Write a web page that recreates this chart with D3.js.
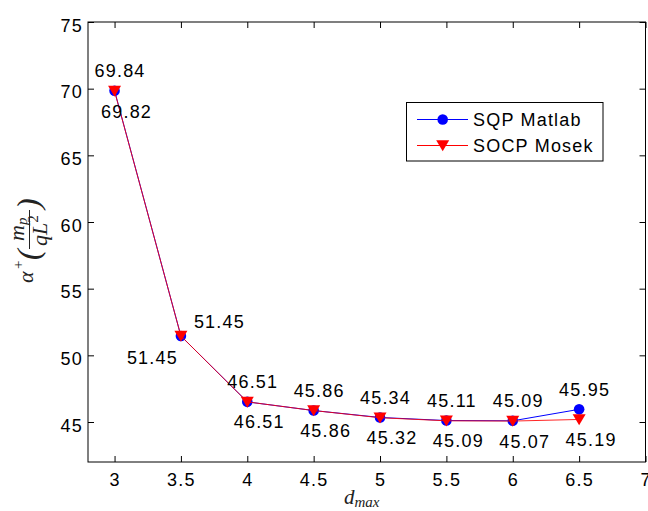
<!DOCTYPE html>
<html>
<head>
<meta charset="utf-8">
<script src="https://cdn.jsdelivr.net/npm/d3@7"></script>
<style>
  html, body { margin: 0; padding: 0; background: #fff; }
  svg { display: block; }
  .sans { font-family: "Liberation Sans", Arial, Helvetica, sans-serif; font-size: 18px; letter-spacing: 1.2px; fill: #000; }
  .math { font-family: "Liberation Serif", "DejaVu Serif", serif; font-style: italic; fill: #222; }
</style>
</head>
<body>
<div id="chart"></div>
<script>
// ---- data ----
const dmax = [3, 3.5, 4, 4.5, 5, 5.5, 6, 6.5];
const sqpMatlab = [69.84, 51.45, 46.51, 45.86, 45.34, 45.11, 45.09, 45.95];
const socpMosek = [69.82, 51.45, 46.51, 45.86, 45.32, 45.09, 45.07, 45.19];
const seriesNames = ["SQP Matlab", "SOCP Mosek"];
const xTicks = [3, 3.5, 4, 4.5, 5, 5.5, 6, 6.5, 7];
const yTicks = [45, 50, 55, 60, 65, 70, 75];

// ---- layout ----
const W = 648, H = 511;
const pL = 88, pR = 645.5, pT = 22, pB = 462;
// label offsets (px) relative to point: default and per-index overrides
const blueOff = { dx: 5.5, dy: -13.5 };
const redOff = { dx: 12, dy: 26.5 };
const blueOverride = { 1: { dx: 38.5, dy: -8 } };
const redOverride = { 1: { dx: -28.5, dy: 28 } };

const svg = d3.select("#chart").append("svg").attr("width", W).attr("height", H);

const x = d3.scaleLinear().domain([2.8, 7]).range([pL, pR]);
const y = d3.scaleLinear().domain([42, 75]).range([pB, pT]);

// axes
const gx = svg.append("g").attr("transform", `translate(0,${pB})`)
  .call(d3.axisBottom(x).tickValues(xTicks).tickFormat(d3.format("")).tickSizeInner(-6).tickSizeOuter(0));
gx.select(".domain").remove();
gx.selectAll("text").attr("class", "sans").attr("y", 24).attr("dy", 0);

const gy = svg.append("g").attr("transform", `translate(${pL},0)`)
  .call(d3.axisLeft(y).tickValues(yTicks).tickFormat(d3.format("")).tickSizeInner(-6).tickSizeOuter(0));
gy.select(".domain").remove();
gy.selectAll("text").attr("class", "sans").attr("x", -5).attr("y", 9).attr("dy", 0);

const gt = svg.append("g").attr("transform", `translate(0,${pT})`)
  .call(d3.axisTop(x).tickValues(xTicks).tickFormat("").tickSizeInner(-6).tickSizeOuter(0));
gt.select(".domain").remove();
const gr = svg.append("g").attr("transform", `translate(${pR},0)`)
  .call(d3.axisRight(y).tickValues(yTicks).tickFormat("").tickSizeInner(-6).tickSizeOuter(0));
gr.select(".domain").remove();
svg.selectAll("g").attr("font-size", null).attr("font-family", null);
svg.selectAll(".tick line").attr("stroke", "#000");
svg.selectAll(".tick text").attr("fill", "#000");

svg.append("rect").attr("x", pL).attr("y", pT).attr("width", pR - pL).attr("height", pB - pT)
  .attr("fill", "none").attr("stroke", "#000").attr("stroke-width", 1);

// series
const line = d3.line().x(d => x(d[0])).y(d => y(d[1]));
const blueData = dmax.map((d, i) => [d, sqpMatlab[i]]);
const redData = dmax.map((d, i) => [d, socpMosek[i]]);
const tri = "M-6.5,-5.2L6.5,-5.2L0,5.8Z";

svg.append("path").datum(blueData).attr("d", line).attr("fill", "none").attr("stroke", "#0000ff").attr("stroke-width", 1);
svg.selectAll(".bdot").data(blueData).enter().append("circle")
  .attr("cx", d => x(d[0])).attr("cy", d => y(d[1])).attr("r", 5.3).attr("fill", "#0000ff");
svg.append("path").datum(redData).attr("d", line).attr("fill", "none").attr("stroke", "#ff0000").attr("stroke-opacity", 0.85).attr("stroke-width", 1);
svg.selectAll(".rtri").data(redData).enter().append("path")
  .attr("d", tri).attr("transform", d => `translate(${x(d[0])},${y(d[1])})`).attr("fill", "#ff0000");

// data labels
svg.selectAll(".blab").data(blueData).enter().append("text").attr("class", "sans")
  .attr("text-anchor", "middle")
  .attr("x", (d, i) => x(d[0]) + (blueOverride[i] || blueOff).dx)
  .attr("y", (d, i) => y(d[1]) + (blueOverride[i] || blueOff).dy)
  .text(d => d[1].toFixed(2));
svg.selectAll(".rlab").data(redData).enter().append("text").attr("class", "sans")
  .attr("text-anchor", "middle")
  .attr("x", (d, i) => x(d[0]) + (redOverride[i] || redOff).dx)
  .attr("y", (d, i) => y(d[1]) + (redOverride[i] || redOff).dy)
  .text(d => d[1].toFixed(2));

// legend
const lg = svg.append("g");
lg.append("rect").attr("x", 406.5).attr("y", 102.5).attr("width", 196.5).attr("height", 58.5)
  .attr("fill", "#fff").attr("stroke", "#000").attr("stroke-width", 1);
const rows = [119.5, 145.5];
lg.append("line").attr("x1", 417).attr("x2", 468).attr("y1", rows[0]).attr("y2", rows[0]).attr("stroke", "#0000ff");
lg.append("circle").attr("cx", 442.7).attr("cy", rows[0]).attr("r", 5.3).attr("fill", "#0000ff");
lg.append("line").attr("x1", 417).attr("x2", 468).attr("y1", rows[1]).attr("y2", rows[1]).attr("stroke", "#ff0000");
lg.append("path").attr("d", tri).attr("transform", `translate(442.7,${rows[1]})`).attr("fill", "#ff0000");
lg.selectAll(".lt").data(seriesNames).enter().append("text").attr("class", "sans")
  .attr("x", 473).attr("y", (d, i) => rows[i] + 6.8).text(d => d);

// x label: d_max
const xl = svg.append("text").attr("class", "math").attr("x", 344).attr("y", 504);
xl.append("tspan").attr("font-size", 21).text("d");
xl.append("tspan").attr("font-size", 15).attr("dy", 3).text("max");

// y label: alpha^+ (m_p / qL^2), rotated
const yl = svg.append("g").attr("transform", "translate(33,242) rotate(-90)");
yl.append("text").attr("class", "math").attr("x", -41).attr("y", 0).attr("font-size", 22).text("α");
yl.append("text").attr("class", "math").attr("x", -28).attr("y", -10).attr("font-size", 15).attr("font-style", "normal").text("+");
yl.append("text").attr("class", "math").attr("x", -18).attr("y", 6).attr("font-size", 32).attr("font-style", "normal").text("(");
yl.append("line").attr("x1", -7).attr("x2", 32).attr("y1", -3.5).attr("y2", -3.5).attr("stroke", "#222").attr("stroke-width", 1);
const num = yl.append("text").attr("class", "math").attr("x", 1).attr("y", -9);
num.append("tspan").attr("font-size", 22).text("m");
num.append("tspan").attr("font-size", 15).attr("dy", 3).text("p");
const den = yl.append("text").attr("class", "math").attr("x", -4).attr("y", 14);
den.append("tspan").attr("font-size", 22).text("qL");
den.append("tspan").attr("font-size", 15).attr("dy", -9).attr("font-style", "normal").text("2");
yl.append("text").attr("class", "math").attr("x", 33).attr("y", 6).attr("font-size", 32).attr("font-style", "normal").text(")");
</script>
</body>
</html>
